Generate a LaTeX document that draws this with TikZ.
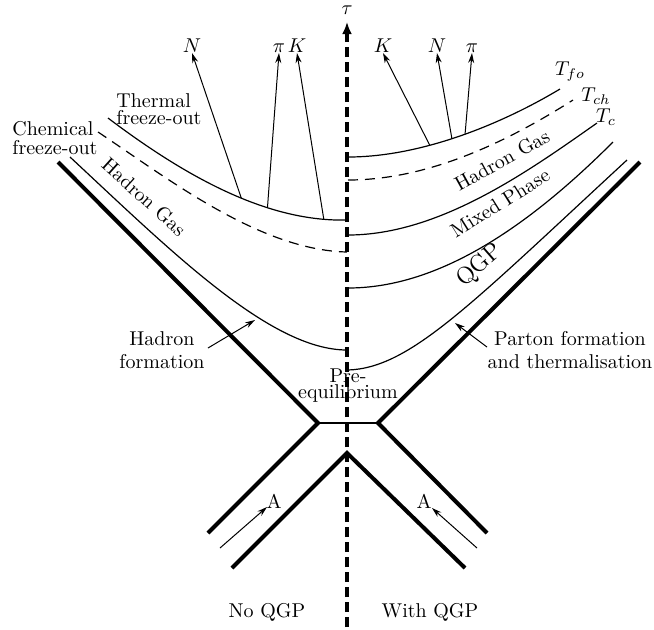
\documentclass[tikz,border=0pt]{standalone}
\usetikzlibrary{arrows.meta}
\begin{document}
\begin{tikzpicture}[x=0.5pt,y=-0.5pt,
  thickline/.style={line width=2pt,line join=miter},
  midline/.style={line width=0.9pt},
  thinline/.style={line width=0.6pt},
  dashline/.style={line width=0.6pt,dash pattern=on 5pt off 3.5pt},
  particle/.style={line width=0.5pt,-{Stealth[length=5pt,width=3pt]}},
  pointer/.style={line width=0.5pt,-{Stealth[length=5pt,width=3pt]}},
  axisline/.style={line width=1.8pt,dash pattern=on 5pt off 2.5pt,-{Latex[length=6pt,width=5pt]}},
  plab/.style={inner sep=0.3pt,anchor=south},
  region/.style={inner sep=0pt},
]
\useasboundingbox (0,0) rectangle (654,629);

% light-cone lines
\coordinate (LT) at (58,162);
\coordinate (LV) at (318,423);
\coordinate (LB) at (208,533);
\coordinate (RT) at (640,162);
\coordinate (RV) at (378,423);
\coordinate (RB) at (487,533);
\coordinate (AL) at (232,568);
\coordinate (AP) at (347,453);
\coordinate (AR) at (465,568);
\draw[thickline] (LT) -- (LV) -- (LB);
\draw[thickline] (RT) -- (RV) -- (RB);
\draw[midline] (LV) -- (RV);
\draw[thickline] (AL) -- (AP) -- (AR);

% left side (No QGP)
\draw[thinline] (108,118) .. controls (190,180) and (270,222) .. (347,220)
  coordinate[pos=0.55] (nLb) coordinate[pos=0.66] (piLb) coordinate[pos=0.9] (kLb);
\draw[dashline] (98,132) .. controls (170,180) and (260,250) .. (347,252);
\draw[thinline] (70,157) .. controls (170,250) and (270,350) .. (347,350)
  coordinate[pos=0.6] (hadtip);

% right side (With QGP)
\draw[thinline] (348,157) .. controls (420,157) and (500,125) .. (560,89)
  coordinate[pos=0.37] (kRb) coordinate[pos=0.47] (nRb) coordinate[pos=0.53] (piRb);
\draw[dashline] (348,180) .. controls (430,180) and (510,140) .. (573,100);
\draw[thinline] (348,235) .. controls (440,235) and (530,170) .. (597,123);
\draw[thinline] (348,288) .. controls (440,288) and (530,225) .. (613,142);
\draw[thinline] (348,370) .. controls (410,368) and (470,305) .. (627,160)
  coordinate[pos=0.55] (partip);

% particle labels and arrows
\node[plab] (NL) at (192,53) {$N$};
\node[plab] (piL) at (279,53) {$\pi$};
\node[plab] (KL) at (297,53) {$K$};
\node[plab] (KR) at (383,53) {$K$};
\node[plab] (NR) at (437,53) {$N$};
\node[plab] (piR) at (472,53) {$\pi$};
\draw[particle] (nLb) -- (NL.south);
\draw[particle] (piLb) -- (piL.south);
\draw[particle] (kLb) -- (KL.south);
\draw[particle] (kRb) -- (KR.south);
\draw[particle] (nRb) -- (NR.south);
\draw[particle] (piRb) -- (piR.south);

% temperature labels
\node[region] (Tfo) at (570,72) {$T_{fo}$};
\node[region] (Tch) at (596,96) {$T_{ch}$};
\node[region] (Tc) at (606,117) {$T_{c}$};

% text labels
\node[region,anchor=west,align=left,font={\fontsize{10}{8.5}\selectfont}] (thermal) at (116,109) {Thermal\\freeze-out};
\node[region,anchor=west,align=left,font={\fontsize{10}{9.5}\selectfont}] (chemical) at (12,138) {Chemical\\freeze-out};
\node[region,rotate=-42] (hgL) at (144,197) {Hadron Gas};
\node[region,rotate=29] (hgR) at (502,160) {Hadron Gas};
\node[region,rotate=32] (mixed) at (500,203) {Mixed Phase};
\node[region,rotate=41,font=\large] (qgp) at (480,266) {QGP};
\node[region,align=center,font={\fontsize{10}{11.5}\selectfont}] (hadform) at (162,350) {Hadron\\formation};
\node[region,align=center,font={\fontsize{10}{11.5}\selectfont}] (parform) at (570,350) {Parton formation\\and thermalisation};
\node[region,align=center,font={\fontsize{10}{8}\selectfont}] (preeq) at (348,386) {Pre-\\equilibrium};
\coordinate (hadstart) at (208,348);
\coordinate (parstart) at (487,347);
\draw[pointer] (hadstart) -- (255,320);
\draw[pointer] (parstart) -- (455,323);

% incoming nuclei
\coordinate (aLs) at (220,548);
\coordinate (aLe) at (267,507);
\coordinate (aRs) at (477,548);
\coordinate (aRe) at (432,508);
\draw[pointer] (aLs) -- (aLe);
\draw[pointer] (aRs) -- (aRe);
\node[region] (AlabL) at (274,501) {A};
\node[region] (AlabR) at (424,501) {A};

\node[region] (noqgp) at (267,612) {No QGP};
\node[region] (withqgp) at (430,612) {With QGP};

% time axis
\coordinate (axbot) at (347,627);
\coordinate (axtop) at (347,22);
\draw[axisline] (axbot) -- (axtop);
\node[region] (tau) at (347,10) {$\tau$};
\end{tikzpicture}
\end{document}
